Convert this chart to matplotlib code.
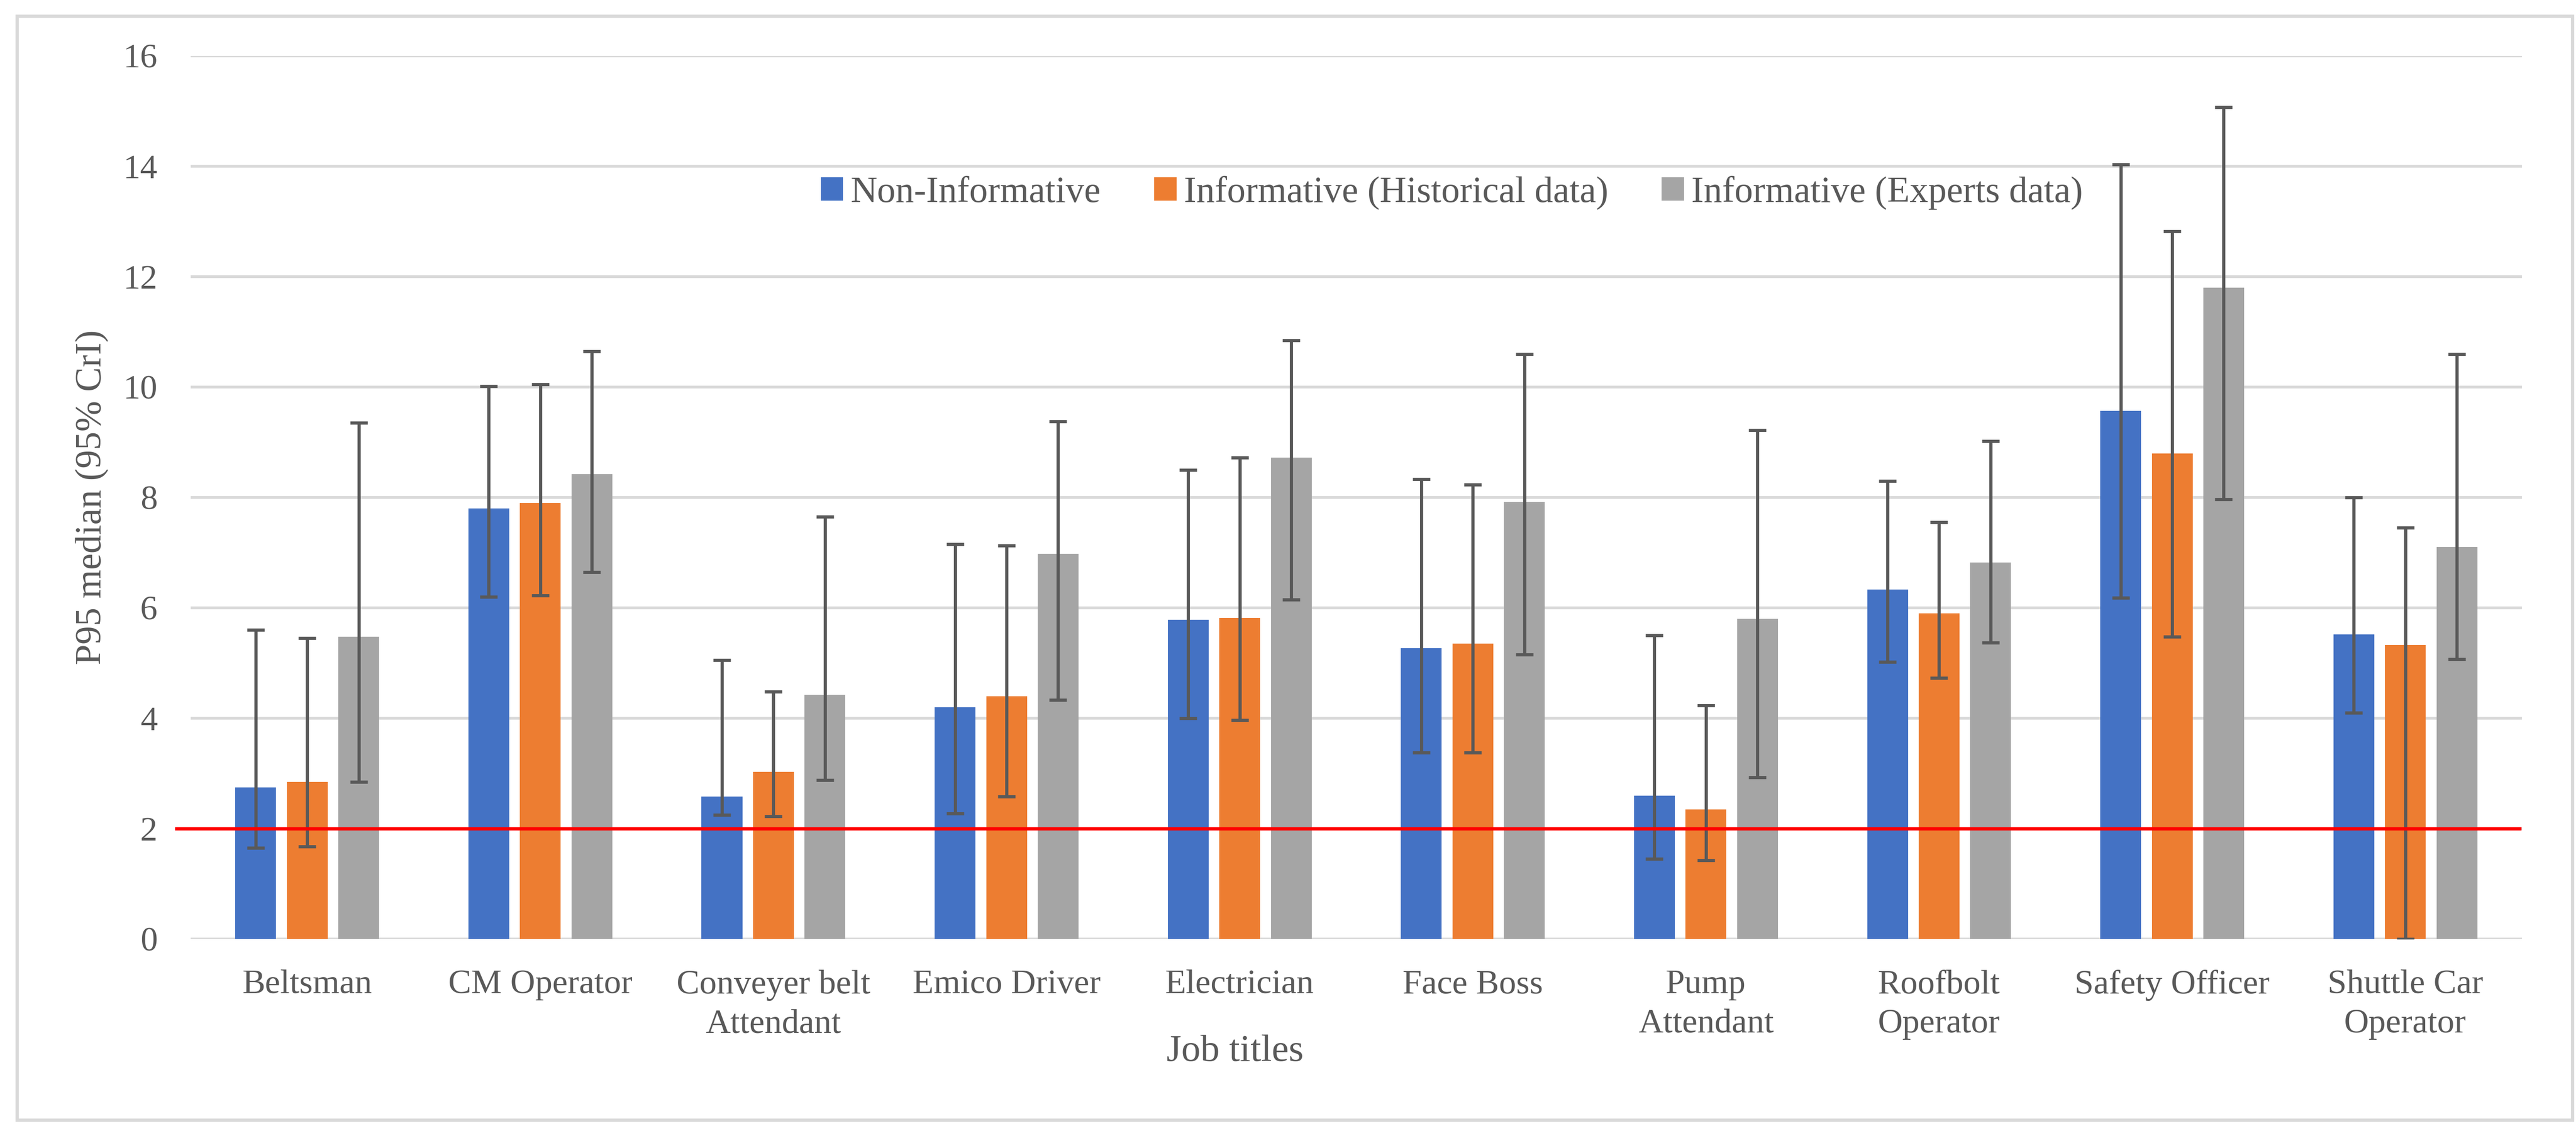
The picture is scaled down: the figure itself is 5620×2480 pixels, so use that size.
import numpy as np
import matplotlib
matplotlib.use("Agg")
import matplotlib.pyplot as plt
from matplotlib.patches import Rectangle

plt.rcParams['font.family'] = ['Liberation Serif', 'DejaVu Serif']

jobs = ["Beltsman", "CM Operator", "Conveyer belt\nAttendant", "Emico Driver",
        "Electrician", "Face Boss", "Pump\nAttendant", "Roofbolt\nOperator",
        "Safety Officer", "Shuttle Car\nOperator"]
series = ["Non-Informative", "Informative (Historical data)", "Informative (Experts data)"]
colors = ["#4472C4", "#ED7D31", "#A5A5A5"]

# medians and 95% CrI bounds, per series
non_inf = [2.75, 7.80, 2.58, 4.20, 5.78, 5.27, 2.60, 6.33, 9.57, 5.52]
non_inf_lo = [1.65, 6.20, 2.25, 2.27, 4.00, 3.38, 1.45, 5.02, 6.18, 4.10]
non_inf_hi = [5.60, 10.02, 5.05, 7.15, 8.50, 8.33, 5.50, 8.30, 14.03, 8.00]

hist = [2.85, 7.90, 3.03, 4.40, 5.82, 5.35, 2.35, 5.90, 8.80, 5.33]
hist_lo = [1.68, 6.22, 2.22, 2.58, 3.97, 3.38, 1.43, 4.73, 5.48, 0.00]
hist_hi = [5.45, 10.05, 4.48, 7.13, 8.72, 8.23, 4.23, 7.55, 12.82, 7.45]

expert = [5.48, 8.42, 4.42, 6.98, 8.72, 7.92, 5.80, 6.82, 11.80, 7.10]
expert_lo = [2.85, 6.65, 2.88, 4.33, 6.15, 5.15, 2.93, 5.37, 7.97, 5.07]
expert_hi = [9.35, 10.65, 7.65, 9.38, 10.85, 10.60, 9.22, 9.02, 15.07, 10.60]

threshold = 2.0

medians = [non_inf, hist, expert]
lows = [non_inf_lo, hist_lo, expert_lo]
highs = [non_inf_hi, hist_hi, expert_hi]

txt = "#595959"
grid = "#D9D9D9"

fig = plt.figure(figsize=(28.1, 12.4), dpi=200)
ax = fig.add_axes([0.074, 0.1734, 0.905, 0.7774])

x = np.arange(len(jobs))
width = 0.175
step = 0.221
for i in range(3):
    m = np.array(medians[i])
    lo = m - np.array(lows[i])
    hi = np.array(highs[i]) - m
    pos = x + (i - 1) * step
    ax.bar(pos, m, width, color=colors[i], label=series[i], zorder=2)
    ax.errorbar(pos, m, yerr=[lo, hi], fmt="none", ecolor=txt,
                elinewidth=2.5, capsize=6.8, capthick=2.5, zorder=3)

# threshold line
ax.plot([-0.006, 0.999], [threshold, threshold], color="#FF0000", lw=2.6,
        transform=ax.get_yaxis_transform(), clip_on=False, zorder=4)

ax.set_xlim(-0.5, len(jobs) - 0.5)
ax.set_ylim(0, 16)
ax.set_yticks(np.arange(0, 17, 2))
ax.yaxis.grid(True, color=grid, lw=2.2, zorder=0)
ax.set_axisbelow(True)
for s in ax.spines.values():
    s.set_visible(False)

ax.set_xticks(x)
ax.set_xticklabels(jobs, linespacing=1.35)
ax.tick_params(axis="both", length=0, colors=txt, labelsize=27)
ax.tick_params(axis="x", pad=24)
ax.tick_params(axis="y", pad=26)

ax.set_xlabel("Job titles", fontsize=30, color=txt)
ax.xaxis.set_label_coords(0.448, -0.108)
ax.set_ylabel("P95 median (95% CrI)", fontsize=29, color=txt)
ax.yaxis.set_label_coords(-0.035, 0.5)

ax.legend(loc="center", bbox_to_anchor=(0.541, 0.845), ncol=3, frameon=False,
          fontsize=29, labelcolor=txt, handlelength=0.6, handleheight=0.6,
          handletextpad=0.2, columnspacing=1.45)

fig.patches.append(Rectangle((0.0066, 0.0141), 0.992, 0.9718, transform=fig.transFigure,
                             fill=False, edgecolor=grid, lw=2.6))

fig.savefig("out.png", dpi=200)
